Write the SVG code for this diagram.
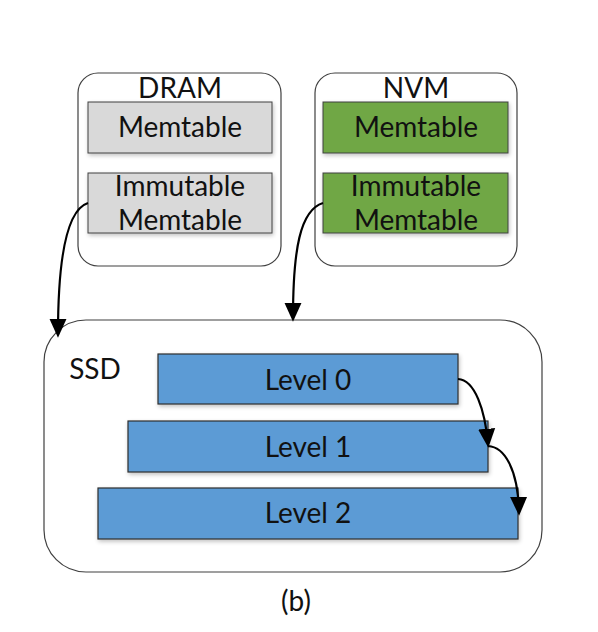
<svg xmlns="http://www.w3.org/2000/svg" width="598" height="632" viewBox="0 0 598 632">
<style>
.box{fill:#fff;stroke:#404040;stroke-width:1.2}
.gray{fill:#d9d9d9;stroke:#404040;stroke-width:1}
.green{fill:#6fa744;stroke:#404040;stroke-width:1}
.blue{fill:#5b9bd5;stroke:#2f2f2f;stroke-width:1.2}
text{font-family:Lato,"Liberation Sans",sans-serif;font-size:28px;fill:#111;text-anchor:middle}
.conn path{fill:none;stroke:#000;stroke-width:2.2}
</style>
<defs>
<marker id="ah" viewBox="0 0 10 10" refX="8" refY="5" markerWidth="19" markerHeight="19" orient="auto" markerUnits="userSpaceOnUse">
<path d="M0,0.5 L10,5 L0,9.5 Z" fill="#000"/>
</marker>
<filter id="sh" x="-10%" y="-10%" width="130%" height="130%">
<feGaussianBlur in="SourceAlpha" stdDeviation="2"/>
<feOffset dx="1" dy="2"/>
<feComponentTransfer><feFuncA type="linear" slope="0.25"/></feComponentTransfer>
<feMerge><feMergeNode/><feMergeNode in="SourceGraphic"/></feMerge>
</filter>
</defs>
<rect width="598" height="632" fill="#fff"/>
<g id="dram">
<rect class="box" x="78" y="73" width="203" height="193" rx="20"/>
<text x="180" y="98">DRAM</text>
<rect class="gray" x="88" y="102" width="184" height="51" filter="url(#sh)"/>
<text x="180" y="137">Memtable</text>
<rect class="gray" x="88" y="173" width="184" height="60" filter="url(#sh)"/>
<text x="180" y="196">Immutable</text>
<text x="180" y="230">Memtable</text>
</g>
<g id="nvm">
<rect class="box" x="315" y="73" width="202" height="193" rx="20"/>
<text x="416" y="98">NVM</text>
<rect class="green" x="323" y="102" width="185" height="51" filter="url(#sh)"/>
<text x="416" y="137">Memtable</text>
<rect class="green" x="323" y="173" width="185" height="60" filter="url(#sh)"/>
<text x="416" y="196">Immutable</text>
<text x="416" y="230">Memtable</text>
</g>
<g id="ssd">
<rect class="box" x="44" y="320" width="498" height="252" rx="42"/>
<text x="95" y="379">SSD</text>
<rect class="blue" x="158" y="354" width="300" height="50" filter="url(#sh)"/>
<text x="308" y="390">Level 0</text>
<rect class="blue" x="128" y="421" width="360" height="51" filter="url(#sh)"/>
<text x="308" y="457">Level 1</text>
<rect class="blue" x="98" y="488" width="420" height="51" filter="url(#sh)"/>
<text x="308" y="523">Level 2</text>
</g>
<g class="conn">
<path d="M88,203 C66,210 58,260 58,334" marker-end="url(#ah)"/>
<path d="M323,203 C300,210 293,250 293,318" marker-end="url(#ah)"/>
<path d="M458,379 C475,380 485,410 488,444" marker-end="url(#ah)"/>
<path d="M488,446 C505,447 518,470 519,512" marker-end="url(#ah)"/>
</g>
<text x="296" y="611">(b)</text>
</svg>
